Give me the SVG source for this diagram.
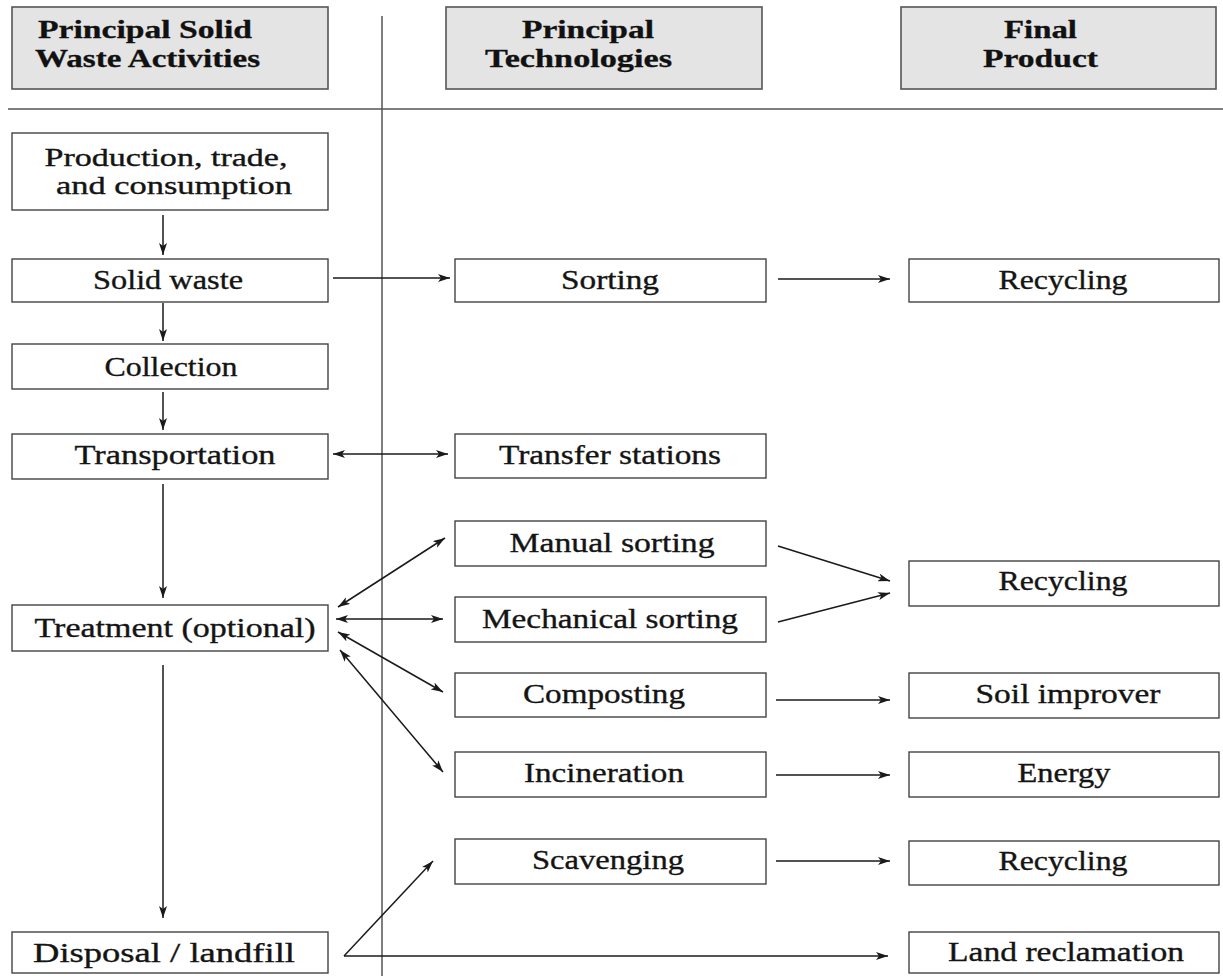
<svg xmlns="http://www.w3.org/2000/svg" width="1223" height="976" viewBox="0 0 1223 976">
<defs>
<marker id="ah" viewBox="0 0 12 8" refX="12" refY="4" markerWidth="12" markerHeight="8" markerUnits="userSpaceOnUse" orient="auto-start-reverse">
<path d="M0,0 L12,4 L0,8 L3,4 z" fill="#1a1a1a"/>
</marker>
</defs>
<style>
.hdr{fill:#e4e4e4;stroke:#555;stroke-width:1.6}
.box{fill:#fff;stroke:#444;stroke-width:1.4}
.ht{font-family:"Liberation Serif",serif;font-weight:bold;font-size:25px;fill:#111;stroke:#111;stroke-width:0.3;text-anchor:middle}
.t{font-family:"Liberation Serif",serif;font-size:28px;fill:#141414;stroke:#141414;stroke-width:0.35;text-anchor:middle}
.t2{font-size:25px}
.rule{stroke:#555;stroke-width:1.5;fill:none}
.c{stroke:#1a1a1a;stroke-width:1.5;fill:none}
.a{marker-end:url(#ah)}
.aa{marker-end:url(#ah);marker-start:url(#ah)}
</style>
<rect width="1223" height="976" fill="#fff"/>
<g id="rules">
<line class="rule" x1="8" y1="109" x2="1223" y2="109"/>
<line class="rule" x1="382" y1="16" x2="382" y2="976"/>
</g>
<g id="hdr-activities">
<rect class="hdr" x="12" y="7" width="316" height="82"/>
<text class="ht" x="145" y="38" textLength="214" lengthAdjust="spacingAndGlyphs">Principal Solid</text>
<text class="ht" x="147.5" y="67" textLength="225" lengthAdjust="spacingAndGlyphs">Waste Activities</text>
</g>
<g id="hdr-technologies">
<rect class="hdr" x="446" y="7" width="316" height="82"/>
<text class="ht" x="588" y="38" textLength="132" lengthAdjust="spacingAndGlyphs">Principal</text>
<text class="ht" x="578.5" y="67" textLength="187" lengthAdjust="spacingAndGlyphs">Technologies</text>
</g>
<g id="hdr-product">
<rect class="hdr" x="901" y="7" width="315" height="82"/>
<text class="ht" x="1040.5" y="38" textLength="73" lengthAdjust="spacingAndGlyphs">Final</text>
<text class="ht" x="1040.5" y="67" textLength="115" lengthAdjust="spacingAndGlyphs">Product</text>
</g>
<g id="production">
<rect class="box" x="12" y="133" width="316" height="77"/>
<text class="t t2" x="166" y="166" textLength="243" lengthAdjust="spacingAndGlyphs">Production, trade,</text>
<text class="t t2" x="174" y="194" textLength="236" lengthAdjust="spacingAndGlyphs">and consumption</text>
</g>
<g id="solid-waste">
<rect class="box" x="12" y="259" width="316" height="43"/>
<text class="t" x="168" y="289" textLength="150" lengthAdjust="spacingAndGlyphs">Solid waste</text>
</g>
<g id="collection">
<rect class="box" x="12" y="344" width="316" height="45"/>
<text class="t" x="171" y="376" textLength="133" lengthAdjust="spacingAndGlyphs">Collection</text>
</g>
<g id="transportation">
<rect class="box" x="12" y="434" width="316" height="45"/>
<text class="t" x="175" y="464" textLength="201" lengthAdjust="spacingAndGlyphs">Transportation</text>
</g>
<g id="treatment">
<rect class="box" x="12" y="605" width="316" height="46"/>
<text class="t" x="175" y="637" textLength="281" lengthAdjust="spacingAndGlyphs">Treatment (optional)</text>
</g>
<g id="disposal">
<rect class="box" x="12" y="932" width="316" height="41"/>
<text class="t" x="164" y="962" textLength="262" lengthAdjust="spacingAndGlyphs">Disposal / landfill</text>
</g>
<g id="sorting">
<rect class="box" x="455" y="259" width="311" height="43"/>
<text class="t" x="610" y="289" textLength="98" lengthAdjust="spacingAndGlyphs">Sorting</text>
</g>
<g id="transfer-stations">
<rect class="box" x="455" y="434" width="311" height="44"/>
<text class="t" x="610" y="464" textLength="222" lengthAdjust="spacingAndGlyphs">Transfer stations</text>
</g>
<g id="manual-sorting">
<rect class="box" x="455" y="521" width="311" height="45"/>
<text class="t" x="612" y="552" textLength="205" lengthAdjust="spacingAndGlyphs">Manual sorting</text>
</g>
<g id="mechanical-sorting">
<rect class="box" x="455" y="597" width="311" height="45"/>
<text class="t" x="610" y="628" textLength="256" lengthAdjust="spacingAndGlyphs">Mechanical sorting</text>
</g>
<g id="composting">
<rect class="box" x="455" y="673" width="311" height="44"/>
<text class="t" x="604" y="703" textLength="162" lengthAdjust="spacingAndGlyphs">Composting</text>
</g>
<g id="incineration">
<rect class="box" x="455" y="752" width="311" height="45"/>
<text class="t" x="604" y="782" textLength="160" lengthAdjust="spacingAndGlyphs">Incineration</text>
</g>
<g id="scavenging">
<rect class="box" x="455" y="839" width="311" height="45"/>
<text class="t" x="608" y="869" textLength="152" lengthAdjust="spacingAndGlyphs">Scavenging</text>
</g>
<g id="recycling-1">
<rect class="box" x="909" y="259" width="310" height="43"/>
<text class="t" x="1063" y="289" textLength="129" lengthAdjust="spacingAndGlyphs">Recycling</text>
</g>
<g id="recycling-2">
<rect class="box" x="909" y="561" width="310" height="45"/>
<text class="t" x="1063" y="590" textLength="129" lengthAdjust="spacingAndGlyphs">Recycling</text>
</g>
<g id="soil-improver">
<rect class="box" x="909" y="673" width="310" height="45"/>
<text class="t" x="1068" y="703" textLength="185" lengthAdjust="spacingAndGlyphs">Soil improver</text>
</g>
<g id="energy">
<rect class="box" x="909" y="752" width="310" height="45"/>
<text class="t" x="1064" y="782" textLength="93" lengthAdjust="spacingAndGlyphs">Energy</text>
</g>
<g id="recycling-3">
<rect class="box" x="909" y="841" width="310" height="44"/>
<text class="t" x="1063" y="870" textLength="129" lengthAdjust="spacingAndGlyphs">Recycling</text>
</g>
<g id="land-reclamation">
<rect class="box" x="909" y="932" width="310" height="41"/>
<text class="t" x="1066" y="961" textLength="236" lengthAdjust="spacingAndGlyphs">Land reclamation</text>
</g>
<g id="connectors">
<line class="c a" x1="163" y1="215" x2="163" y2="255"/>
<line class="c a" x1="163" y1="303" x2="163" y2="341"/>
<line class="c a" x1="163" y1="392" x2="163" y2="430"/>
<line class="c a" x1="163" y1="484" x2="163" y2="598"/>
<line class="c a" x1="163" y1="665" x2="163" y2="918"/>
<line class="c a" x1="333" y1="278" x2="450" y2="278"/>
<line class="c a" x1="778" y1="279" x2="890" y2="279"/>
<line class="c aa" x1="333" y1="454" x2="448" y2="454"/>
<line class="c aa" x1="338" y1="607" x2="445" y2="538"/>
<line class="c aa" x1="336" y1="619" x2="443" y2="619"/>
<line class="c aa" x1="338" y1="632" x2="443" y2="692"/>
<line class="c aa" x1="340" y1="650" x2="443" y2="772"/>
<line class="c a" x1="778" y1="546" x2="890" y2="581"/>
<line class="c a" x1="778" y1="622" x2="890" y2="593"/>
<line class="c a" x1="776" y1="700" x2="890" y2="700"/>
<line class="c a" x1="776" y1="775" x2="890" y2="775"/>
<line class="c a" x1="776" y1="861" x2="890" y2="861"/>
<line class="c a" x1="344" y1="956" x2="433" y2="861"/>
<line class="c a" x1="344" y1="956" x2="888" y2="956"/>
</g>
</svg>
